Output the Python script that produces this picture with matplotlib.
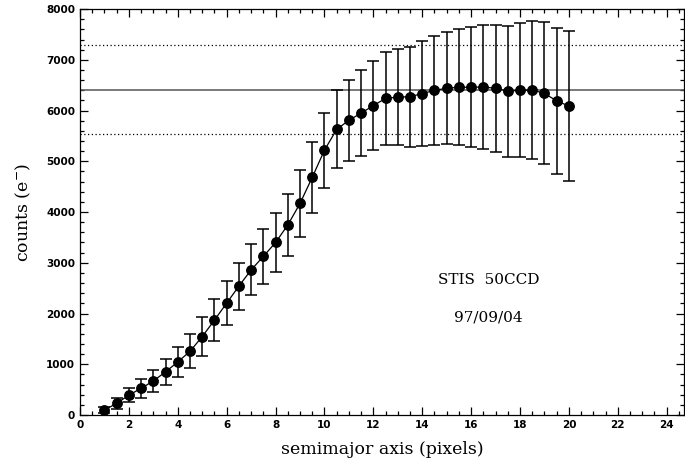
import matplotlib
matplotlib.use("Agg")
import matplotlib.pyplot as plt
from matplotlib.ticker import MultipleLocator

# semimajor axis (pixels) and aperture counts with 1-sigma errors
radius = [1.0, 1.5, 2.0, 2.5, 3.0, 3.5, 4.0, 4.5, 5.0, 5.5,
          6.0, 6.5, 7.0, 7.5, 8.0, 8.5, 9.0, 9.5, 10.0, 10.5,
          11.0, 11.5, 12.0, 12.5, 13.0, 13.5, 14.0, 14.5, 15.0, 15.5,
          16.0, 16.5, 17.0, 17.5, 18.0, 18.5, 19.0, 19.5, 20.0]
counts = [95, 230, 390, 525, 670, 850, 1045, 1255, 1545, 1870,
          2205, 2540, 2860, 3125, 3400, 3745, 4170, 4685, 5220, 5630,
          5810, 5950, 6100, 6240, 6265, 6275, 6335, 6400, 6440, 6460,
          6460, 6465, 6440, 6385, 6400, 6405, 6340, 6190, 6090]
errors = [65, 108, 144, 187, 223, 259, 300, 339, 378, 410,
          433, 465, 505, 545, 585, 618, 657, 700, 736, 770,
          800, 850, 880, 915, 945, 985, 1035, 1075, 1105, 1145,
          1180, 1220, 1255, 1290, 1320, 1360, 1400, 1430, 1470]

# asymptotic level and its +/- 1 sigma band
level = 6410
level_hi = 7290
level_lo = 5530

fig = plt.figure(figsize=(6.85, 4.58), dpi=100)
ax = fig.add_axes([0.1168, 0.094, 0.8815, 0.886])

ax.axhline(level, color="#555555", lw=1.1)
ax.axhline(level_hi, color="black", lw=0.9, ls=(0, (1, 2)))
ax.axhline(level_lo, color="black", lw=0.9, ls=(0, (1, 2)))

ax.errorbar(radius, counts, yerr=errors, fmt="o-", color="black",
            ms=6.8, lw=0.9, elinewidth=1.1, capsize=4, capthick=1.1)

ax.text(16.7, 2660, "STIS  50CCD", fontsize=11, family="DejaVu Serif",
        ha="center", va="center")
ax.text(16.7, 1930, "97/09/04", fontsize=11, family="DejaVu Serif",
        ha="center", va="center")

ax.set_xlim(0, 24.7)
ax.set_ylim(0, 8000)
ax.xaxis.set_major_locator(MultipleLocator(2))
ax.xaxis.set_minor_locator(MultipleLocator(0.5))
ax.yaxis.set_major_locator(MultipleLocator(1000))
ax.yaxis.set_minor_locator(MultipleLocator(200))
ax.tick_params(which="both", direction="in", top=True, right=True,
               width=0.9, labelsize=7.5)
ax.tick_params(which="major", length=6)
ax.tick_params(which="minor", length=3)
for lab in ax.get_xticklabels() + ax.get_yticklabels():
    lab.set_fontweight("bold")
for sp in ax.spines.values():
    sp.set_linewidth(0.9)

ax.set_xlabel("semimajor axis (pixels)", fontsize=12.5, family="DejaVu Serif",
              va="center")
ax.set_ylabel("counts (e$^{-}$)", fontsize=12.5, family="DejaVu Serif",
              va="center")
ax.xaxis.set_label_coords(0.5, -0.084)
ax.yaxis.set_label_coords(-0.094, 0.5)

fig.savefig("out.png", dpi=100)
